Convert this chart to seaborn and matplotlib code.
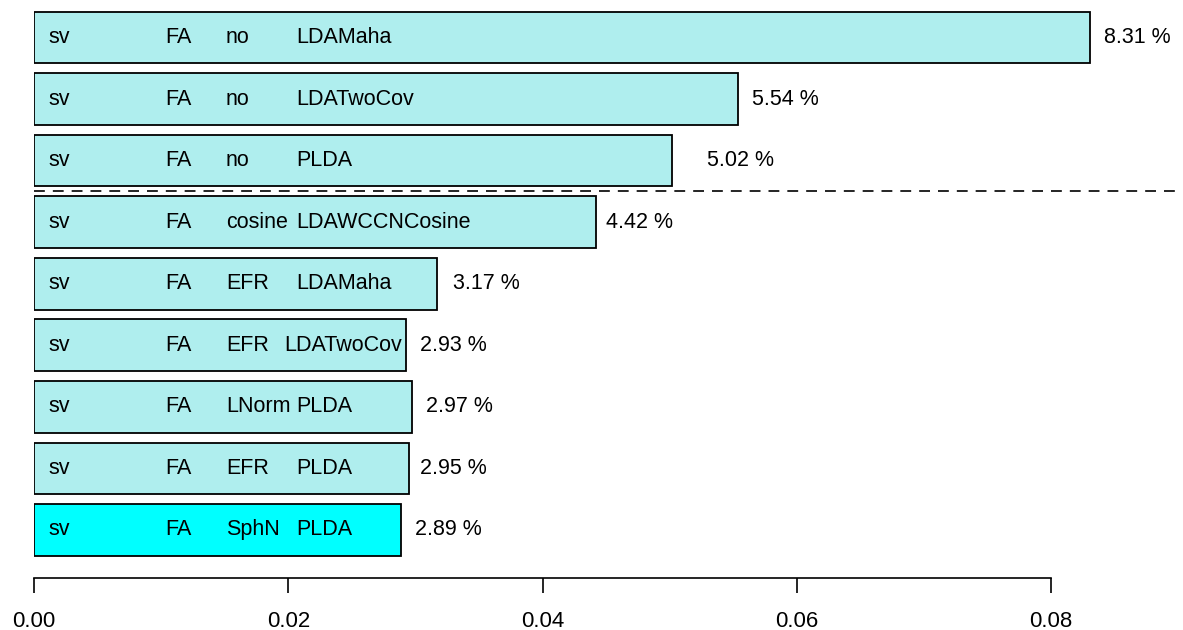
import seaborn as sns
import matplotlib.pyplot as plt
import pandas as pd

# data
feature = ["sv"] * 9
backend = ["FA"] * 9
norm = ["no", "no", "no", "cosine", "EFR", "EFR", "LNorm", "EFR", "SphN"]
scoring = ["LDAMaha", "LDATwoCov", "PLDA", "LDAWCCNCosine", "LDAMaha",
           "LDATwoCov", "PLDA", "PLDA", "PLDA"]
eer = [0.0831, 0.0554, 0.0502, 0.0442, 0.0317, 0.0293, 0.0297, 0.0295, 0.0289]
xticks = [0.00, 0.02, 0.04, 0.06, 0.08]

# layout only
label_pad_px = [14, 14, 35, 10, 16, 14, 14, 11, 14]
col_x = [0.0011, 0.0103, 0.0151, 0.0206]
best = 8

df = pd.DataFrame({"system": [f"{i}" for i in range(len(eer))], "eer": eer})
palette = {s: ("#00FFFF" if i == best else "#AFEEEE") for i, s in enumerate(df["system"])}

sns.set_style("white")
plt.rcParams["font.family"] = ["Liberation Sans", "DejaVu Sans"]
plt.rcParams["text.color"] = "black"

W, H = 1183, 630
fig = plt.figure(figsize=(W / 100, H / 100), dpi=100)
ax = fig.add_axes([34 / W, (H - 578) / H, (1180 - 34) / W, 578 / H])

sns.barplot(data=df, x="eer", y="system", hue="system", palette=palette,
            orient="h", width=0.84, saturation=1, edgecolor="black",
            linewidth=1.3, legend=False, ax=ax)

ax.set_xlim(0, 0.08 * 1146 / 1017)
ax.set_ylim(8 + 48 / 61.56, -37.5 / 61.56)

fs = 15.5
fig.canvas.draw()
renderer = fig.canvas.get_renderer()
px = ax.transData.transform((0.08, 0))[0] - ax.transData.transform((0, 0))[0]
px_per_unit = px / 0.08

for i, v in enumerate(eer):
    words = [feature[i], backend[i], norm[i], scoring[i]]
    for j, w in enumerate(words):
        t = ax.text(col_x[j], i, w, ha="left", va="center", fontsize=fs,
                    color="black")
        if j == 3:
            bb = t.get_window_extent(renderer)
            right = ax.transData.transform((v, i))[0] - 4
            if bb.x1 > right:
                t.set_x(col_x[j] - (bb.x1 - right) / px_per_unit)
    ax.text(v + label_pad_px[i] / px_per_unit, i, f"{v * 100:.2f} %",
            ha="left", va="center", fontsize=fs, color="black")

ax.axhline(2.5, xmin=0, xmax=1, color="black", linewidth=1.2,
           dashes=(6.5, 4.8))

for s in ["top", "right", "left"]:
    ax.spines[s].set_visible(False)
ax.spines["bottom"].set_bounds(0, 0.08)
ax.spines["bottom"].set_linewidth(1.2)
ax.spines["bottom"].set_color("black")
ax.set_xticks(xticks)
ax.set_xticklabels([f"{t:.2f}" for t in xticks])
ax.tick_params(axis="x", bottom=True, length=11, width=1.2, pad=13,
               labelsize=16, colors="black")
ax.set_yticks([])
ax.set_xlabel("")
ax.set_ylabel("")

fig.savefig("out.png", dpi=100)
